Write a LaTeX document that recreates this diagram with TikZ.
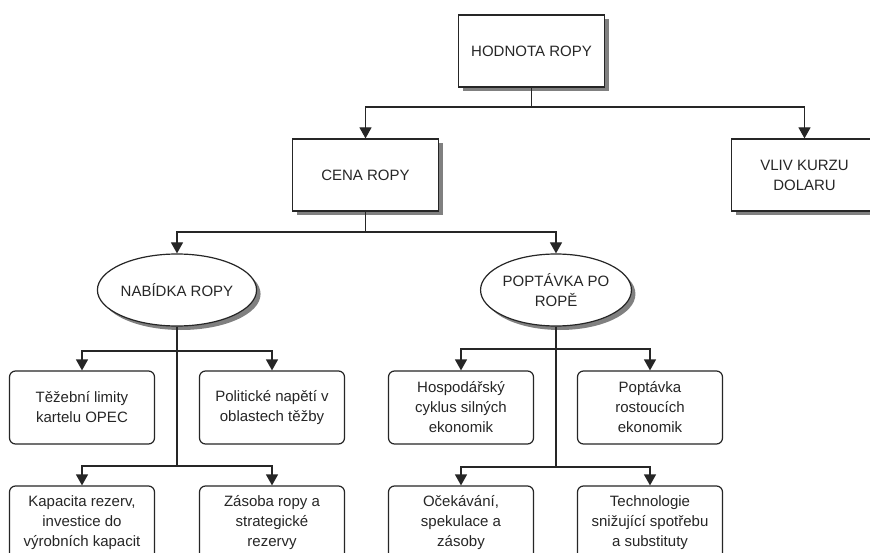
\documentclass[tikz,border=0pt]{standalone}
\usepackage{fontspec}
\setmainfont{Liberation Sans}
\usetikzlibrary{shapes.geometric,shadows,arrows.meta}
\begin{document}
\begin{tikzpicture}[x=1pt,y=-1pt,
  every node/.style={font=\fontsize{15}{20}\selectfont, align=center, line width=1.2pt, text=black!85},
  shad/.style={drop shadow={shadow xshift=4pt, shadow yshift=-4pt, fill=black!50, opacity=1}},
  mainbox/.style={rectangle, draw=black!85, fill=white, shad, minimum width=146pt, minimum height=72pt},
  ellip/.style={ellipse, draw=black!85, fill=white, shad, minimum width=147pt, minimum height=72pt, inner sep=0pt},
  leaf/.style={rectangle, rounded corners=6pt, draw=black!85, fill=white, minimum width=145pt, minimum height=73pt, inner sep=2pt},
  conn/.style={line width=1.2pt, draw=black!85},
  arr/.style={conn, -{Triangle[width=12pt,length=11pt]}}
]
\useasboundingbox (0,0) rectangle (870,553);
\clip (0,0) rectangle (870,553);
\fill[white] (0,0) rectangle (870,553);

\node[mainbox] (h) at (531.5,51) {HODNOTA ROPY};
\node[mainbox] (c) at (365.5,175) {CENA ROPY};
\node[mainbox] (v) at (804.5,175) {VLIV KURZU\\DOLARU};

\node[ellip] (n) at (177,290) {NABÍDKA ROPY};
\node[ellip] (p) at (556,290) {POPTÁVKA PO\\ROPĚ};

\node[leaf] (l1) at (82,407.5) {Těžební limity\\kartelu OPEC};
\node[leaf] (l2) at (272,407.5) {Politické napětí v\\oblastech těžby};
\node[leaf] (l3) at (82,522.5) {Kapacita rezerv,\\investice do\\výrobních kapacit};
\node[leaf] (l4) at (272,522.5) {Zásoba ropy a\\strategické\\rezervy};

\node[leaf] (r1) at (461,407.5) {Hospodářský\\cyklus silných\\ekonomik};
\node[leaf] (r2) at (650,407.5) {Poptávka\\rostoucích\\ekonomik};
\node[leaf] (r3) at (461,522.5) {Očekávání,\\spekulace a\\zásoby};
\node[leaf] (r4) at (650,522.5) {Technologie\\snižující spotřebu\\a substituty};

\coordinate (jh) at (531.5,107);
\coordinate (jc) at (365.5,232);
\coordinate (jn1) at (177,351);
\coordinate (jn2) at (177,466);
\coordinate (jp1) at (556,349);
\coordinate (jp2) at (556,467);

\draw[conn] (h.south) -- (jh);
\draw[arr] (jh) -| (c.north);
\draw[arr] (jh) -| (v.north);

\draw[conn] (c.south) -- (jc);
\draw[arr] (jc) -| (n.north);
\draw[arr] (jc) -| (p.north);

\draw[conn] (n.south) -- (jn2);
\draw[arr] (jn1) -| (l1.north);
\draw[arr] (jn1) -| (l2.north);
\draw[arr] (jn2) -| (l3.north);
\draw[arr] (jn2) -| (l4.north);

\draw[conn] (p.south) -- (jp2);
\draw[arr] (jp1) -| (r1.north);
\draw[arr] (jp1) -| (r2.north);
\draw[arr] (jp2) -| (r3.north);
\draw[arr] (jp2) -| (r4.north);
\end{tikzpicture}
\end{document}
